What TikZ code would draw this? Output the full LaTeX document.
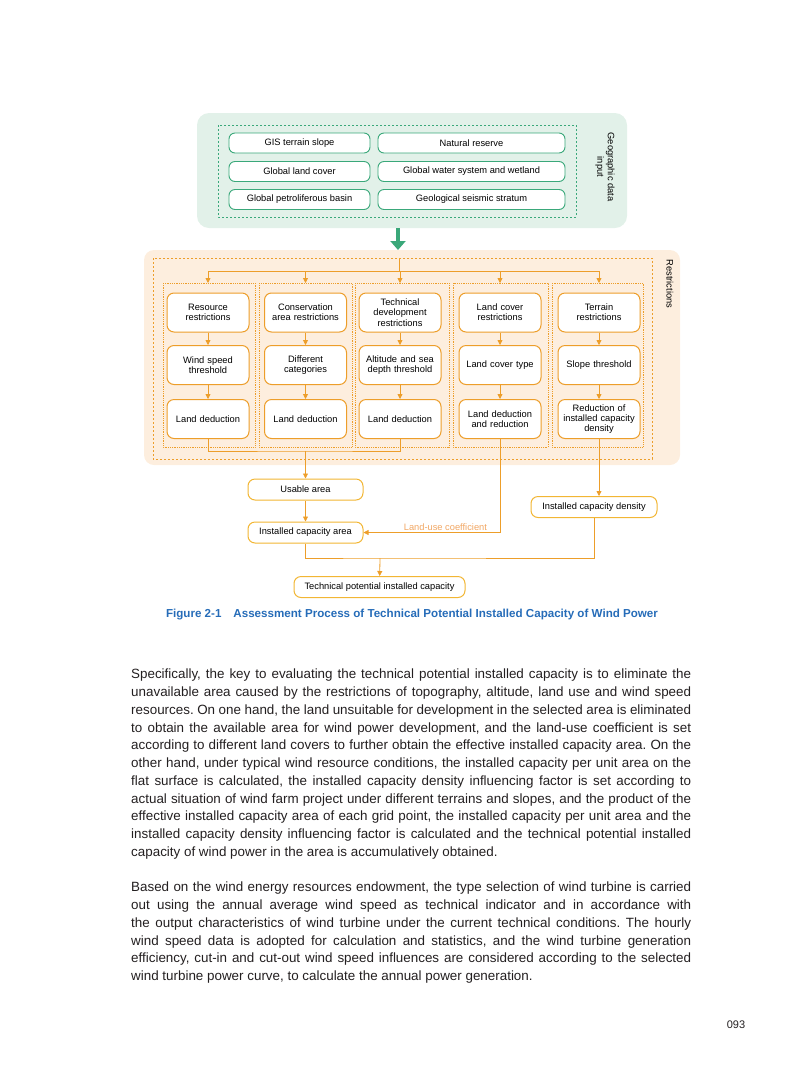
\documentclass[tikz,border=0pt]{standalone}
\usepackage{fontspec}
\setmainfont{Liberation Sans}
\usetikzlibrary{arrows.meta}
\definecolor{geofill}{RGB}{226,241,233}
\definecolor{geoline}{RGB}{58,168,122}
\definecolor{resfill}{RGB}{253,238,222}
\definecolor{resline}{RGB}{237,158,42}
\definecolor{outline}{RGB}{242,182,52}
\definecolor{lucol}{RGB}{241,166,98}
\definecolor{capblue}{RGB}{38,108,184}
\definecolor{bodyink}{RGB}{35,31,32}
\tikzset{
geobox/.style={draw=geoline, fill=white, rounded corners=6pt, line width=0.9pt,
  minimum height=20pt, inner sep=1pt, font=\fontsize{9.3}{10.5}\selectfont},
resbox/.style={draw=resline, fill=white, rounded corners=7pt, line width=1pt,
  minimum width=82pt, minimum height=39pt, text width=80pt, align=center,
  inner sep=1pt, font=\fontsize{9.3}{10.3}\selectfont},
outbox/.style={draw=outline, fill=white, rounded corners=7pt, line width=1pt,
  minimum height=21pt, inner sep=1pt, font=\fontsize{9.3}{10.5}\selectfont},
oline/.style={draw=resline, line width=0.8pt},
oarr/.style={oline, -{Triangle[length=5pt,width=5pt]}},
bodytext/.style={anchor=north west, inner sep=0pt, text width=560pt, align=justify,
  text=bodyink, font=\fontsize{13.4}{17.75}\selectfont\frenchspacing}
}
\begin{document}
\begin{tikzpicture}[x=1pt,y=-1pt]
\useasboundingbox (0,0) rectangle (793,1077);
% geographic data input
\fill[geofill, rounded corners=12pt] (197,113) rectangle (627,228);
\draw[geoline, dash pattern=on 2pt off 2pt, line width=0.6pt] (218,125) rectangle (576,217);
\node[geobox, minimum width=141pt] (gis) at (299.5,143) {GIS terrain slope};
\node[geobox, minimum width=187pt] (natres) at (471.5,143) {Natural reserve};
\node[geobox, minimum width=141pt] (glc) at (299.5,171.5) {Global land cover};
\node[geobox, minimum width=187pt] (water) at (471.5,171.5) {Global water system and wetland};
\node[geobox, minimum width=141pt] (basin) at (299.5,199.5) {Global petroliferous basin};
\node[geobox, minimum width=187pt] (seismic) at (471.5,199.5) {Geological seismic stratum};
\node[rotate=-90, align=center, font=\fontsize{9.3}{10.5}\selectfont] (geolab) at (605,167) {Geographic data\\input};
\coordinate (gtop) at (398,228);
\coordinate (gbot) at (398,250);
\draw[geoline, line width=4pt, -{Triangle[length=9pt,width=15pt]}] (gtop)--(gbot);
% restrictions
\fill[resfill, rounded corners=10pt] (144,250) rectangle (680,465);
\draw[resline, dash pattern=on 2pt off 2pt, line width=0.6pt] (153,258) rectangle (652,459);
\node[rotate=-90, font=\fontsize{9.3}{10.5}\selectfont] (reslab) at (670,284) {Restrictions};
\draw[resline, densely dotted, line width=0.8pt] (163,283) rectangle (255,447);
\draw[resline, densely dotted, line width=0.8pt] (259,283) rectangle (352,447);
\draw[resline, densely dotted, line width=0.8pt] (355,283) rectangle (449,447);
\draw[resline, densely dotted, line width=0.8pt] (453,283) rectangle (548,447);
\draw[resline, densely dotted, line width=0.8pt] (552,283) rectangle (643,447);
\node[resbox] (resr) at (208,312.5) {Resource\\restrictions};
\node[resbox] (windthr) at (208,365) {Wind speed\\threshold};
\node[resbox] (landa) at (208,419) {Land deduction};
\node[resbox] (consr) at (305.5,312.5) {Conservation\\area restrictions};
\node[resbox] (diffcat) at (305.5,365) {Different\\categories};
\node[resbox] (landb) at (305.5,419) {Land deduction};
\node[resbox] (techr) at (400,312.5) {Technical\\development\\restrictions};
\node[resbox] (altthr) at (400,365) {Altitude and sea\\depth threshold};
\node[resbox] (landc) at (400,419) {Land deduction};
\node[resbox] (coverr) at (500,312.5) {Land cover\\restrictions};
\node[resbox] (covtype) at (500,365) {Land cover type};
\node[resbox] (landd) at (500,419) {Land deduction\\and reduction};
\node[resbox] (terr) at (599,312.5) {Terrain\\restrictions};
\node[resbox] (slopethr) at (599,365) {Slope threshold};
\node[resbox] (densred) at (599,419) {Reduction of\\installed capacity\\density};
\coordinate (split) at (399,258);
\coordinate (bus) at (399,271);
\draw[oline] (split)--(bus);
\draw[oline] (resr.north |- bus)--(terr.north |- bus);
\draw[oarr] (resr.north |- bus)--++(0,12);
\draw[oarr] (consr.north |- bus)--++(0,12);
\draw[oarr] (techr.north |- bus)--++(0,12);
\draw[oarr] (coverr.north |- bus)--++(0,12);
\draw[oarr] (terr.north |- bus)--++(0,12);
\draw[oarr] (resr)--(windthr);
\draw[oarr] (windthr)--(landa);
\draw[oarr] (consr)--(diffcat);
\draw[oarr] (diffcat)--(landb);
\draw[oarr] (techr)--(altthr);
\draw[oarr] (altthr)--(landc);
\draw[oarr] (coverr)--(covtype);
\draw[oarr] (covtype)--(landd);
\draw[oarr] (terr)--(slopethr);
\draw[oarr] (slopethr)--(densred);
% results
\node[outbox, minimum width=115pt] (usable) at (305.5,489.5) {Usable area};
\node[outbox, minimum width=115pt] (icarea) at (305.5,532.5) {Installed capacity area};
\node[outbox, minimum width=126pt] (densbox) at (594,507) {Installed capacity density};
\node[outbox, minimum width=171pt] (techpot) at (379.5,587) {Technical potential installed capacity};
\coordinate (merge) at (305.5,451);
\draw[oline] (landa.south) |- (merge) -| (landc.south);
\draw[oarr] (merge)--(usable);
\draw[oarr] (usable)--(icarea);
\draw[oarr] (landd.south) |- node[pos=0.7, above, inner sep=1.5pt, text=lucol,
  font=\fontsize{9.3}{10.5}\selectfont] {Land-use coefficient} (icarea.east);
\draw[oarr] (densred.south)--(densred.south |- densbox.north);
\coordinate (join) at (380,558);
\draw[oline] (icarea.south) |- (join) -| (densbox.south);
\draw[oarr] (join)--(techpot);
\node[text=capblue, font=\bfseries\fontsize{11.6}{13}\selectfont] (caption) at (412,615)
  {Figure 2-1\hspace{12pt}Assessment Process of Technical Potential Installed Capacity of Wind Power};
% body
\node[bodytext] (para1) at (131,669) {Specifically, the key to evaluating the technical potential installed capacity is to eliminate the\linebreak
unavailable area caused by the restrictions of topography, altitude, land use and wind speed\linebreak
resources. On one hand, the land unsuitable for development in the selected area is eliminated\linebreak
to obtain the available area for wind power development, and the land-use coefficient is set\linebreak
according to different land covers to further obtain the effective installed capacity area. On the\linebreak
other hand, under typical wind resource conditions, the installed capacity per unit area on the\linebreak
flat surface is calculated, the installed capacity density influencing factor is set according to\linebreak
actual situation of wind farm project under different terrains and slopes, and the product of the\linebreak
effective installed capacity area of each grid point, the installed capacity per unit area and the\linebreak
installed capacity density influencing factor is calculated and the technical potential installed\linebreak
capacity of wind power in the area is accumulatively obtained.};
\node[bodytext] (para2) at (131,882) {Based on the wind energy resources endowment, the type selection of wind turbine is carried\linebreak
out using the annual average wind speed as technical indicator and in accordance with\linebreak
the output characteristics of wind turbine under the current technical conditions. The hourly\linebreak
wind speed data is adopted for calculation and statistics, and the wind turbine generation\linebreak
efficiency, cut-in and cut-out wind speed influences are considered according to the selected\linebreak
wind turbine power curve, to calculate the annual power generation.};
\node[text=bodyink, font=\fontsize{11}{13}\selectfont] (pagenum) at (736,1025) {093};
\end{tikzpicture}
\end{document}
